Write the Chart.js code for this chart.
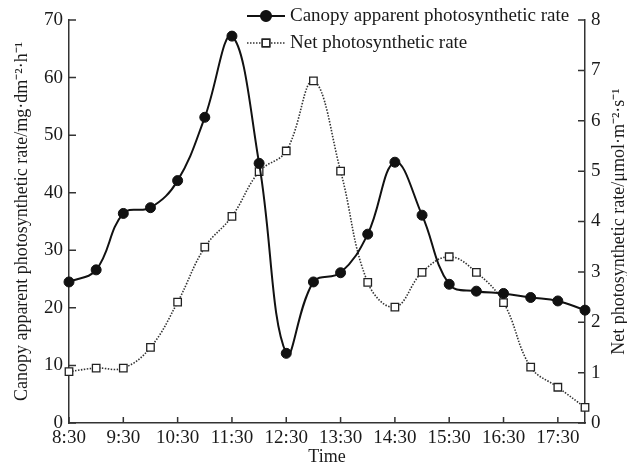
<!DOCTYPE html>
<html>
<head>
<meta charset="utf-8">
<title>Canopy photosynthetic rate</title>
<script src="https://cdn.jsdelivr.net/npm/chart.js@4.4.1/dist/chart.umd.min.js"></script>
<style>
    html, body { margin: 0; padding: 0; background: #fff; }
    #wrap { width: 627px; height: 472px; }
</style>
</head>
<body>
<div id="wrap"><canvas id="photoChart" width="627" height="472"></canvas></div>
<script>
// values
var times = ['8:30', '9:00', '9:30', '10:00', '10:30', '11:00', '11:30', '12:00', '12:30', '13:00',
             '13:30', '14:00', '14:30', '15:00', '15:30', '16:00', '16:30', '17:00', '17:30', '18:00'];
var timeTicks = ['8:30', '9:30', '10:30', '11:30', '12:30', '13:30', '14:30', '15:30', '16:30', '17:30'];
var canopyRate = [24.5, 26.6, 36.4, 37.4, 42.1, 53.1, 67.2, 45.1, 12.1, 24.5,
                  26.1, 32.8, 45.3, 36.1, 24.1, 22.9, 22.5, 21.8, 21.2, 19.6];
var netRate = [1.02, 1.09, 1.09, 1.50, 2.40, 3.49, 4.10, 4.99, 5.40, 6.79,
               5.00, 2.79, 2.30, 2.99, 3.30, 2.99, 2.39, 1.11, 0.71, 0.31];
var leftTicks = [0, 10, 20, 30, 40, 50, 60, 70];
var rightTicks = [0, 1, 2, 3, 4, 5, 6, 7, 8];

var seriesNames = ['Canopy apparent photosynthetic rate', 'Net photosynthetic rate'];
var rightTitle = 'Net photosynthetic rate/μmol·m⁻²·s⁻¹';

var axisColor = '#333';
var textColor = '#1a1a1a';
var serif = '"Liberation Serif", "Times New Roman", serif';

// short tick marks pointing into the plot
var inwardTicks = {
    id: 'inwardTicks',
    beforeDatasetsDraw: function(chart) {
        'use strict';
        var ctx = chart.ctx;
        var area = chart.chartArea;
        var xs = chart.scales.x;
        var yl = chart.scales.yLeft;
        var yr = chart.scales.yRight;
        ctx.save();
        ctx.strokeStyle = axisColor;
        ctx.lineWidth = 1.5;
        ctx.beginPath();
        times.forEach(function(t, i) {
            if (timeTicks.indexOf(t) < 0) { return; }
            var px = xs.getPixelForValue(i);
            ctx.moveTo(px, area.bottom);
            ctx.lineTo(px, area.bottom - 6);
        });
        leftTicks.forEach(function(v) {
            var py = yl.getPixelForValue(v);
            ctx.moveTo(area.left, py);
            ctx.lineTo(area.left + 7, py);
        });
        rightTicks.forEach(function(v) {
            var py = yr.getPixelForValue(v);
            ctx.moveTo(area.right, py);
            ctx.lineTo(area.right - 7, py);
        });
        ctx.stroke();
        ctx.restore();
    }
};

// right axis title reads bottom to top, same as the left one
var rightAxisTitle = {
    id: 'rightAxisTitle',
    afterDraw: function(chart) {
        'use strict';
        var ctx = chart.ctx;
        var area = chart.chartArea;
        ctx.save();
        ctx.translate(619, (area.top + area.bottom) / 2);
        ctx.rotate(-Math.PI / 2);
        ctx.fillStyle = textColor;
        ctx.font = '18px ' + serif;
        ctx.textAlign = 'center';
        ctx.textBaseline = 'middle';
        ctx.fillText(rightTitle, 0, 0);
        ctx.restore();
    }
};

// legend in the top of the plot: line sample with marker, then the name
var lineLegend = {
    id: 'lineLegend',
    afterDraw: function(chart) {
        'use strict';
        var ctx = chart.ctx;
        var x0 = 247, x1 = 285, rows = [16, 43];
        ctx.save();
        chart.data.datasets.forEach(function(ds, i) {
            var y = rows[i];
            ctx.strokeStyle = ds.borderColor;
            ctx.lineWidth = ds.borderWidth;
            ctx.setLineDash(ds.borderDash || []);
            ctx.beginPath();
            ctx.moveTo(x0, y);
            ctx.lineTo(x1, y);
            ctx.stroke();
            ctx.setLineDash([]);
            Chart.helpers.drawPoint(ctx, {
                pointStyle: ds.pointStyle,
                radius: ds.pointRadius,
                borderWidth: ds.pointBorderWidth
            }, (x0 + x1) / 2, y);
            ctx.fillStyle = ds.pointBackgroundColor;
            ctx.strokeStyle = ds.pointBorderColor;
            ctx.lineWidth = ds.pointBorderWidth;
            ctx.fill();
            ctx.stroke();
            ctx.fillStyle = textColor;
            ctx.font = '19px ' + serif;
            ctx.textBaseline = 'middle';
            ctx.textAlign = 'left';
            ctx.fillText(ds.label, 290, y);
        });
        ctx.restore();
    }
};

window.onload = function() {
    var ctx = document.getElementById('photoChart').getContext('2d');

    var chartData = {
        labels: times,
        datasets: [{
            label: seriesNames[0],
            data: canopyRate,
            yAxisID: 'yLeft',
            borderColor: '#111',
            borderWidth: 2,
            tension: 0.4,
            pointStyle: 'circle',
            pointRadius: 5,
            pointBackgroundColor: '#111',
            pointBorderColor: '#111',
            pointBorderWidth: 1,
            clip: false,
            order: 1
        }, {
            label: seriesNames[1],
            data: netRate,
            yAxisID: 'yRight',
            borderColor: '#333',
            borderWidth: 1.6,
            borderDash: [1.5, 1.5],
            tension: 0.4,
            pointStyle: 'rect',
            pointRadius: 5.3,
            pointBackgroundColor: '#fff',
            pointBorderColor: '#222',
            pointBorderWidth: 1.3,
            clip: false,
            order: 2
        }]
    };

    var config = {
        type: 'line',
        data: chartData,
        options: {
            responsive: false,
            devicePixelRatio: 1,
            animation: false,
            layout: { padding: { top: 20, left: 0, right: 0, bottom: 0 } },
            plugins: {
                legend: { display: false },
                tooltip: { enabled: false }
            },
            scales: {
                x: {
                    offset: false,
                    grid: { display: false, drawTicks: false },
                    border: { color: axisColor, width: 1.5 },
                    ticks: {
                        autoSkip: false,
                        maxRotation: 0,
                        padding: 4,
                        color: textColor,
                        font: { family: serif, size: 19 },
                        callback: function(val, i) {
                            return timeTicks.indexOf(times[i]) >= 0 ? times[i] : '';
                        }
                    },
                    title: {
                        display: true,
                        text: 'Time',
                        color: textColor,
                        font: { family: serif, size: 18, lineHeight: 1.1 },
                        padding: { top: 0, bottom: 5 }
                    },
                    afterFit: function(scale) { scale.height = 49; }
                },
                yLeft: {
                    position: 'left',
                    min: 0,
                    max: 70,
                    grid: { display: false, drawTicks: false },
                    border: { color: axisColor, width: 1.5 },
                    ticks: {
                        stepSize: 10,
                        padding: 6,
                        color: textColor,
                        font: { family: serif, size: 19 }
                    },
                    title: {
                        display: true,
                        text: 'Canopy apparent photosynthetic rate/mg·dm⁻²·h⁻¹',
                        color: textColor,
                        font: { family: serif, size: 18, lineHeight: 1.2 },
                        padding: { top: 11, bottom: 0 }
                    },
                    afterFit: function(scale) { scale.width = 69; }
                },
                yRight: {
                    position: 'right',
                    min: 0,
                    max: 8,
                    grid: { display: false, drawTicks: false },
                    border: { color: axisColor, width: 1.5 },
                    ticks: {
                        stepSize: 1,
                        padding: 6,
                        color: textColor,
                        font: { family: serif, size: 19 }
                    },
                    title: { display: false },
                    afterFit: function(scale) { scale.width = 42; }
                }
            }
        },
        plugins: [inwardTicks, rightAxisTitle, lineLegend]
    };

    var photoChart = new Chart(ctx, config);
};
</script>
</body>
</html>
